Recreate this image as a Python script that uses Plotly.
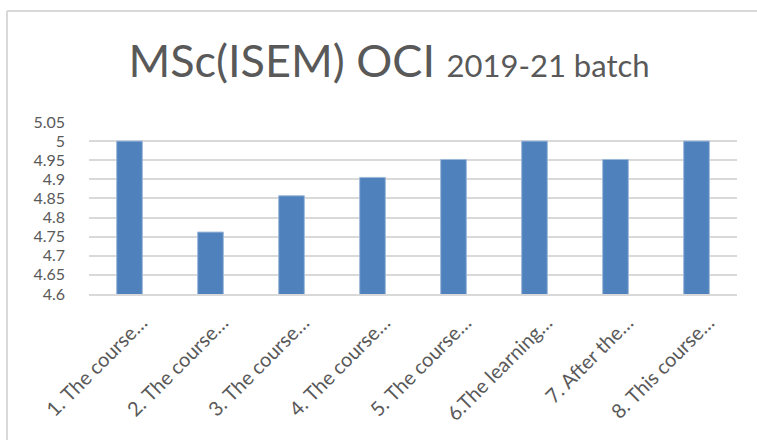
import plotly.graph_objects as go

# Survey items (truncated as on the axis) and their mean scores
categories = [
    "1. The course…",
    "2. The course…",
    "3. The course…",
    "4. The course…",
    "5. The course…",
    "6.The learning…",
    "7. After the…",
    "8. This course…",
]
mean_scores = [5.0, 4.762, 4.857, 4.905, 4.952, 5.0, 4.952, 5.0]
y_ticks = [4.6, 4.65, 4.7, 4.75, 4.8, 4.85, 4.9, 4.95, 5.0, 5.05]
y_tick_text = ["4.6", "4.65", "4.7", "4.75", "4.8", "4.85", "4.9", "4.95", "5", "5.05"]

W, H = 757, 440
L, R, T, B = 89, 20, 122, 146
FONT = "Lato"
GREY = "#595959"
FRAME = "#d9d9d9"

fig = go.Figure(
    go.Bar(
        x=categories,
        y=mean_scores,
        marker=dict(color="#4f81bd", line=dict(color="#9db8da", width=1)),
    )
)

# outer chart-area frame: top and left edges
pw, ph = W - L - R, H - T - B
fx = (7 - L) / pw
fy = (ph + T - 11) / ph
fig.add_shape(type="line", xref="paper", yref="paper", x0=fx, x1=(W - L) / pw, y0=fy, y1=fy,
              line=dict(color=FRAME, width=2), layer="below")
fig.add_shape(type="line", xref="paper", yref="paper", x0=fx, x1=fx, y0=fy, y1=-B / ph,
              line=dict(color=FRAME, width=2), layer="below")

fig.update_layout(
    width=W,
    height=H,
    margin=dict(l=L, r=R, t=T, b=B),
    paper_bgcolor="white",
    plot_bgcolor="white",
    bargap=0.683,
    showlegend=False,
    title=dict(
        text="MSc(ISEM) OCI <span style='font-size:31px'>2019-21 batch</span>",
        font=dict(family=FONT, size=45, color=GREY),
        x=(389 - L) / pw,
        xref="paper",
        xanchor="center",
        y=1 - 61 / H,
        yref="container",
        yanchor="middle",
    ),
    font=dict(family=FONT, color=GREY),
)
fig.update_xaxes(
    tickangle=-45,
    tickfont=dict(family=FONT, size=20, color=GREY),
    ticklabelstandoff=7,
    ticklabelshift=12,
    showline=True,
    linecolor=FRAME,
    linewidth=2,
    ticks="",
    showgrid=False,
)
fig.update_yaxes(
    range=[4.6, 5.05],
    tickvals=y_ticks,
    ticktext=y_tick_text,
    tickfont=dict(family=FONT, size=16, color=GREY),
    ticklabelstandoff=23,
    showgrid=True,
    gridcolor=FRAME,
    gridwidth=1.5,
    zeroline=False,
    showline=False,
    ticks="",
)

fig.write_html("out.html")
